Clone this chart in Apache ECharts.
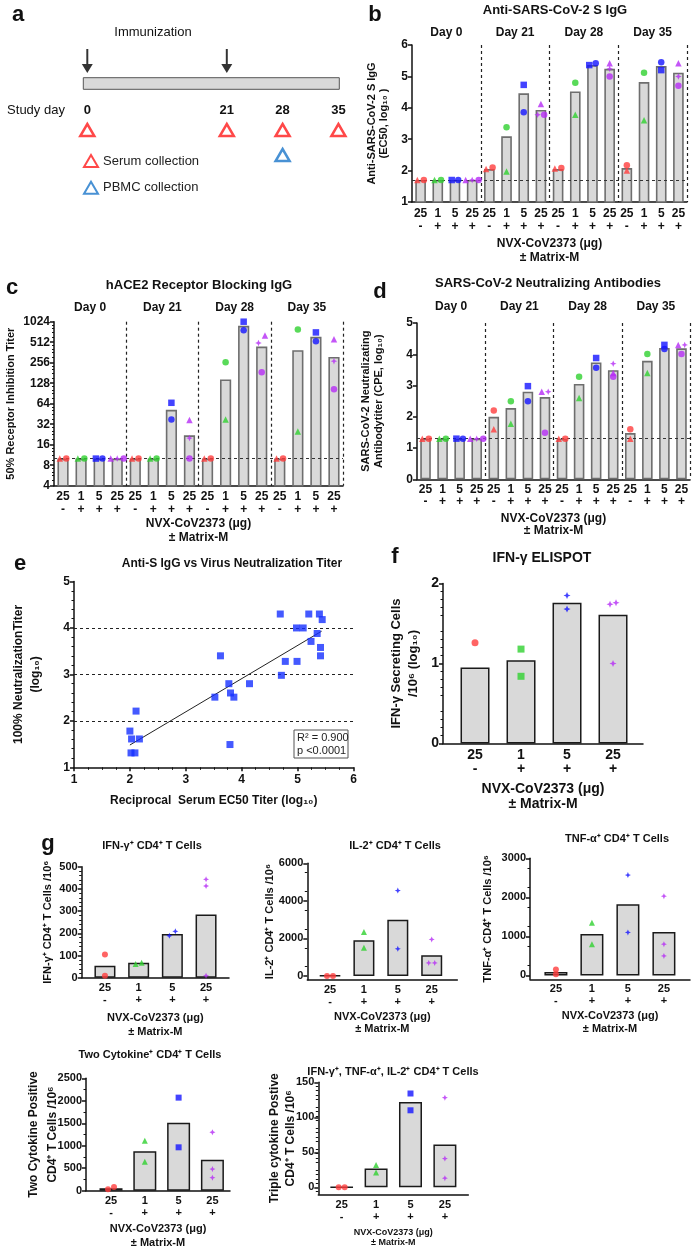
<!DOCTYPE html>
<html><head><meta charset="utf-8">
<script src="https://cdn.jsdelivr.net/npm/echarts@6/dist/echarts.min.js"></script>
<style>html,body{margin:0;padding:0;background:#fff}#c{width:697px;height:1248px}</style>
</head><body><div id="c"></div>
<script>
// ---------------- DATA ----------------
// Panel a (study schedule, schematic spacing)
const timelineTicks = ['0','','','','','21','','28','','35'];
const immunizationDays = ['0','21'];
const serumDays = ['0','21','28','35'];
const pbmcDays = ['28'];

// Shared labels
const dayLabels = ['Day 0','Day 21','Day 28','Day 35'];
const doseLabels = ['25','1','5','25'];
const matrixLabels = ['-','+','+','+'];

// Panel b: Anti-S IgG (EC50, log10)
const bBars = [1.7,1.7,1.7,1.7, 2.05,3.09,4.46,3.93, 2.05,4.52,5.36,5.24, 2.08,4.82,5.33,5.12];
const bPoints = [
  [1.7,1.7],[1.7,1.7],[1.7,1.7],[1.7,1.7,1.7],
  [2.05,2.1],[1.97,3.38],[4.73,3.86],[4.12,3.78,3.78],
  [2.07,2.08],[3.78,4.8],[5.36,5.42],[5.42,5.24,5.0],
  [2.0,2.17],[3.6,5.12],[5.2,5.45],[5.42,5.0,4.7]
];
const bLOD = 1.7;

// Panel c: hACE2 receptor blocking titer
const cBars = [10,10,10,10, 10,10,52,22, 10,145,891,442, 10,390,614,311];
const cPoints = [
  [10,10],[10,10],[10,10],[10,10,10],
  [10,10],[10,10],[66,37.5],[37,20,10],
  [10,10],[37.5,260],[1024,770],[643,500,186],
  [10,10],[25,788],[713,529],[568,270,104]
];
const cLOD = 10;
const cTicks = [4,8,16,32,64,128,256,512,1024];

// Panel d: neutralizing antibody titer (CPE, log10)
const dBars = [1.3,1.3,1.3,1.3, 2.0,2.28,2.8,2.63, 1.3,3.05,3.74,3.49, 1.48,3.79,4.2,4.19];
const dPoints = [
  [1.3,1.3],[1.3,1.3],[1.3,1.3],[1.3,1.3,1.3],
  [1.6,2.2],[1.78,2.5],[2.98,2.5],[2.8,2.8,1.49],
  [1.3,1.3],[2.6,3.28],[3.88,3.57],[3.4,3.7,3.28],
  [1.3,1.6],[3.4,4.01],[4.3,4.17],[4.3,4.3,4.01]
];
const dLOD = 1.3;

// Panel e: anti-S IgG vs neutralization
const eIgG  = [2.0,2.03,2.11,2.17,2.02,2.09, 3.52,3.62,3.77,3.80,3.86,3.79,4.14,4.71,4.78,4.99, 4.69,4.98,5.10,5.20,5.39,5.44,5.35,5.24,5.41,5.41];
const eNeut = [1.78,1.61,2.21,1.61,1.31,1.31, 2.51,3.40,2.80,2.60,2.51,1.49,2.80,2.98,3.28,3.28, 4.30,4.0,4.0,4.30,4.30,4.18,3.88,3.71,3.58,3.40];
const eFit = [[2.0,1.48],[5.43,3.93]];
const eRefLines = [2,3,4];

// Panel f: IFN-g ELISPOT
const fBars = [0.95,1.04,1.76,1.61];
const fPoints = [[1.26],[1.18,0.84],[1.85,1.68],[1.76,1.74,1.0]];

// Panel g
const g1Bars = [54,67,197,285];      const g1Points = [[105,9],[62,67],[189,209],[443,413,9]];
const g2Bars = [20,1900,3000,1100];  const g2Points = [[0,0],[2350,1500],[4550,1450],[1950,700,700]];
const g3Bars = [90,1060,1820,1110];  const g3Points = [[150,30],[1350,800],[2570,1100],[2030,800,500]];
const g4Bars = [55,880,1510,690];    const g4Points = [[30,85],[1110,645],[2070,965],[1300,480,290]];
const g5Bars = [0.5,27,122,61];      const g5Points = [[0,0],[32,21],[134,110],[128,41,13]];

// ---------------- STYLE ----------------
const F = '"Liberation Sans", Arial, sans-serif';
const STAR = 'path://M5,0 L6.5,3.5 L10,5 L6.5,6.5 L5,10 L3.5,6.5 L0,5 L3.5,3.5 Z';
const ARROW = 'path://M4.1,0 L5.9,0 L5.9,15 L10,15 L5,24 L0,15 L4.1,15 Z';
const groupColors = ['#ff3d3d','#2fd12f','#1414ff','#b52cf5'];
const daySymbols = [['triangle','circle'],['triangle','circle'],['rect','circle'],['triangle',STAR,'circle']];
const INK = '#111';
const axLine = {color: INK, width: 1.5};

function merge(a, b) {
  const o = Object.assign({}, a);
  for (const k in b) {
    const bv = b[k], av = a ? a[k] : undefined;
    if (bv && typeof bv === 'object' && !Array.isArray(bv) && av && typeof av === 'object' && !Array.isArray(av)) o[k] = merge(av, bv);
    else o[k] = bv;
  }
  return o;
}
function offsets(vals, thr, gap) {
  const idx = vals.map((v, i) => i).sort((a, b) => vals[a] - vals[b]);
  const off = new Array(vals.length).fill(0);
  let cl = [idx[0]];
  const flush = () => { const n = cl.length; cl.forEach((k, j) => off[k] = (j - (n - 1) / 2) * gap); };
  for (let j = 1; j < idx.length; j++) {
    if (vals[idx[j]] - vals[idx[j - 1]] < thr) cl.push(idx[j]); else { flush(); cl = [idx[j]]; }
  }
  flush();
  return off;
}

const grids = [], xAxes = [], yAxes = [], series = [], graphics = [];

function baseY(extra) {
  return merge({
    type: 'value', nameLocation: 'middle', nameMoveOverlap: false,
    axisLine: {show: true, onZero: false, lineStyle: axLine},
    axisTick: {show: true, length: 4, lineStyle: axLine},
    splitLine: {show: false},
    axisLabel: {fontFamily: F, fontSize: 12, fontWeight: 'bold', color: INK, margin: 4, formatter: v => String(v)},
    nameTextStyle: {fontFamily: F, fontSize: 11, fontWeight: 'bold', color: INK}
  }, extra);
}

// ---------- Day panels (b, c, d) ----------
function dayPanel(p) {
  const gi = grids.length;
  grids.push({left: p.left, top: p.top, width: p.width, height: p.height, outerBoundsMode: 'none'});
  const xi = xAxes.length;
  const n = p.bars.length;
  xAxes.push({
    type: 'category', gridIndex: gi, data: p.bars.map((_, i) => String(i)),
    nameMoveOverlap: false,
    axisLine: {onZero: false, lineStyle: axLine}, axisTick: {show: false},
    axisLabel: {interval: 0, margin: p.lm, formatter: (v, i) => '{d|' + doseLabels[i % 4] + '}\n{d|' + matrixLabels[i % 4] + '}',
      rich: {d: {fontFamily: F, fontSize: 12, fontWeight: 'bold', color: INK, lineHeight: p.llh}}},
    splitLine: {show: true, interval: (i) => i > 0 && i < n && i % 4 === 0, lineStyle: {type: [3, 3], color: '#222', width: 1.2}},
    name: 'NVX-CoV2373 (μg)\n± Matrix-M', nameLocation: 'middle', nameGap: p.ng,
    nameTextStyle: {fontFamily: F, fontSize: 12, fontWeight: 'bold', color: INK, lineHeight: p.nlh}
  });
  xAxes.push({
    type: 'category', gridIndex: gi, position: 'top', data: dayLabels,
    axisLine: {show: false}, axisTick: {show: false},
    axisLabel: {interval: 0, fontFamily: F, fontSize: 12, fontWeight: 'bold', color: INK, margin: p.dm}
  });
  const yi = yAxes.length;
  yAxes.push(merge(baseY(p.y), {gridIndex: gi}));
  series.push({
    type: 'bar', xAxisIndex: xi, yAxisIndex: yi, data: p.bars, barWidth: '62%', clip: true, z: 2,
    itemStyle: {color: '#d9d9d9', borderColor: '#6e6e6e', borderWidth: 1.6},
    markLine: {silent: true, symbol: 'none', label: {show: false}, animation: false,
      lineStyle: {type: [3, 3], color: '#333', width: 1}, data: [{yAxis: p.lod}]}
  });
  const tf = p.tf || (v => v);
  const pts = [];
  p.points.forEach((vals, i) => {
    const g = i % 4;
    const offs = offsets(vals.map(tf), p.thr, 6.5);
    vals.forEach((v, k) => pts.push({value: [i, v], symbol: daySymbols[g][k], symbolOffset: [offs[k], 0], itemStyle: {color: groupColors[g]}}));
  });
  series.push({type: 'scatter', xAxisIndex: xi, yAxisIndex: yi, data: pts, symbolSize: 6.5, z: 5});
}

// ---------- Small bar panels (f, g) ----------
function smallPanel(p) {
  const gi = grids.length;
  grids.push({left: p.left, top: p.top, width: p.width, height: p.height, outerBoundsMode: 'none'});
  const W = p.width / p.spacing;
  const xs = p.bars.map((_, i) => p.first + i);
  const xi = xAxes.length;
  xAxes.push({
    type: 'value', gridIndex: gi, min: 0, max: W, nameMoveOverlap: false,
    axisLine: {onZero: false, lineStyle: axLine}, axisTick: {show: false}, splitLine: {show: false},
    axisLabel: {customValues: xs, showMinLabel: true, showMaxLabel: true,
      formatter: (v) => { const i = xs.findIndex(x => Math.abs(x - v) < 1e-6); return i < 0 ? '' : doseLabels[i] + '\n' + matrixLabels[i]; },
      fontFamily: F, fontSize: p.lf, fontWeight: 'bold', color: INK, lineHeight: p.llh, margin: p.lm},
    name: 'NVX-CoV2373 (μg)\n± Matrix-M', nameLocation: 'middle', nameGap: p.ng,
    nameTextStyle: {fontFamily: F, fontSize: p.nf, fontWeight: 'bold', color: INK, lineHeight: p.nlh}
  });
  const yi = yAxes.length;
  yAxes.push(merge(baseY({
    min: p.yMin, max: p.yMax,
    axisLabel: {customValues: p.yTicks, fontSize: p.yf},
    axisTick: {customValues: p.yTicks},
    minorTick: {show: true, splitNumber: p.minor, length: 2.5, lineStyle: {color: INK, width: 1}},
    name: p.yName, nameGap: p.yGap, nameTextStyle: {fontSize: p.ynf, lineHeight: p.ynlh}
  }), merge(p.yExtra || {}, {gridIndex: gi})));
  series.push({
    type: 'bar', xAxisIndex: xi, yAxisIndex: yi, data: p.bars.map((v, i) => [xs[i], v]), barWidth: p.barW, z: 2,
    itemStyle: {color: '#d9d9d9', borderColor: '#1a1a1a', borderWidth: 1.5}
  });
  const pts = [];
  p.points.forEach((vals, i) => {
    const offs = offsets(vals, p.thr, 6);
    vals.forEach((v, k) => pts.push({value: [xs[i], v], symbol: p.symbols[i], symbolOffset: [offs[k], 0], itemStyle: {color: groupColors[i]}}));
  });
  series.push({type: 'scatter', xAxisIndex: xi, yAxisIndex: yi, data: pts, symbolSize: p.ss || 6, z: 5});
}

// ---------- Panel a ----------
(function () {
  const gi = grids.length;
  // axis line sits at the grid top (y = 118.5); rows below are y-values
  grids.push({left: 87.3, top: 118.5, width: 251.1, height: 36.5, outerBoundsMode: 'none'});
  const xi = xAxes.length, yi = yAxes.length;
  xAxes.push({type: 'category', gridIndex: gi, boundaryGap: false, position: 'top', data: timelineTicks,
    axisLine: {show: false, onZero: false}, axisTick: {show: false}, splitLine: {show: false},
    axisLabel: {interval: 0, fontFamily: F, fontSize: 13, fontWeight: 'bold', color: INK, margin: 2}});
  yAxes.push({type: 'value', gridIndex: gi, min: -0.46, max: 1, inverse: true, show: false});
  const ARROW_ROW = -2.76, SERUM_ROW = 0, PBMC_ROW = 1;
  series.push({type: 'scatter', xAxisIndex: xi, yAxisIndex: yi, symbol: ARROW, symbolSize: [11, 24], clip: false,
    itemStyle: {color: '#000'}, data: immunizationDays.map(d => [timelineTicks.indexOf(d), ARROW_ROW])});
  series.push({name: 'Serum collection', type: 'scatter', xAxisIndex: xi, yAxisIndex: yi, symbol: 'triangle', symbolSize: [14, 12], clip: false,
    itemStyle: {color: '#fff', borderColor: '#ff1a1a', borderWidth: 2.5}, data: serumDays.map(d => [timelineTicks.indexOf(d), SERUM_ROW])});
  series.push({name: 'PBMC collection', type: 'scatter', xAxisIndex: xi, yAxisIndex: yi, symbol: 'triangle', symbolSize: [14, 12], clip: false,
    itemStyle: {color: '#fff', borderColor: '#1a75c9', borderWidth: 2.5}, data: pbmcDays.map(d => [timelineTicks.indexOf(d), PBMC_ROW])});
  graphics.push({type: 'rect', shape: {x: 83.3, y: 77.7, width: 256, height: 11.6}, style: {fill: '#d9d9d9', stroke: '#555', lineWidth: 1}});
})();

// ---------- Panel b ----------
dayPanel({left: 412, top: 45, width: 275, height: 157, bars: bBars, points: bPoints, lod: bLOD, thr: 0.12,
  lm: 5, llh: 13, ng: 35, nlh: 14, dm: 6,
  y: {min: 1, max: 6, interval: 1, name: 'Anti-SARS-CoV-2 S IgG\n(EC50, log₁₀ )', nameGap: 22, nameTextStyle: {lineHeight: 12}}});

// ---------- Panel c ----------
dayPanel({left: 54, top: 321.7, width: 289, height: 164, bars: cBars, points: cPoints, lod: cLOD, thr: 0.4, tf: v => Math.log2(v),
  lm: 4, llh: 13, ng: 31, nlh: 14, dm: 8,
  y: {type: 'log', logBase: 2, min: 4, max: 1024, splitNumber: 8,
    axisLabel: {customValues: cTicks, formatter: v => String(Math.round(v))}, axisTick: {customValues: cTicks},
    minorTick: {show: true, splitNumber: 5, length: 2, lineStyle: {color: INK, width: 1}},
    name: '50% Receptor Inhibition Titer', nameGap: 38}});

// ---------- Panel d ----------
dayPanel({left: 417, top: 323, width: 273, height: 156.3, bars: dBars, points: dPoints, lod: dLOD, thr: 0.12,
  lm: 4, llh: 12.5, ng: 33, nlh: 12, dm: 10,
  y: {min: 0, max: 5, interval: 1, name: 'SARS-CoV-2 Neutralizating\nAntibodytiter (CPE, log₁₀)', nameGap: 32, nameTextStyle: {lineHeight: 13}}});

// ---------- Panel e ----------
(function () {
  const gi = grids.length;
  grids.push({left: 74, top: 581.5, width: 279.5, height: 185.8, outerBoundsMode: 'none'});
  const xi = xAxes.length, yi = yAxes.length;
  xAxes.push(baseY({min: 1, max: 6, interval: 1, gridIndex: gi,
    minorTick: {show: true, splitNumber: 4, length: 2.5, lineStyle: {color: INK, width: 1}},
    axisLabel: {margin: 6},
    name: 'Reciprocal  Serum EC50 Titer (log₁₀)', nameGap: 27, nameTextStyle: {fontSize: 12}}));
  yAxes.push(baseY({min: 1, max: 5, interval: 1, gridIndex: gi,
    minorTick: {show: true, splitNumber: 5, length: 2.5, lineStyle: {color: INK, width: 1}},
    name: '100% NeutralizationTiter\n(log₁₀)', nameGap: 30, nameTextStyle: {fontSize: 12, lineHeight: 17}}));
  series.push({type: 'scatter', xAxisIndex: xi, yAxisIndex: yi, symbol: 'rect', symbolSize: 7, z: 5,
    itemStyle: {color: '#1530ff'}, data: eIgG.map((x, i) => [x, eNeut[i]]),
    markLine: {silent: true, symbol: 'none', label: {show: false}, animation: false,
      lineStyle: {type: [3, 3], color: '#222', width: 1}, data: eRefLines.map(v => ({yAxis: v}))}});
  series.push({type: 'line', xAxisIndex: xi, yAxisIndex: yi, data: eFit, symbol: 'none', z: 4,
    lineStyle: {color: '#222', width: 1}});
  graphics.push({type: 'rect', shape: {x: 294, y: 730, width: 54, height: 28}, style: {fill: '#fff', stroke: '#555', lineWidth: 1}, z: 10});
  graphics.push({type: 'text', x: 297, y: 744, z: 11, style: {text: 'R² = 0.900\np <0.0001', fontFamily: F, fontSize: 11, fill: '#222', lineHeight: 13, align: 'left', verticalAlign: 'middle'}});
})();

// ---------- Panel f ----------
smallPanel({left: 443, top: 583.5, width: 200, height: 160, spacing: 46, first: 0.696, barW: 29,
  bars: fBars, points: fPoints, symbols: ['circle', 'rect', STAR, STAR], thr: 0.06, ss: 7,
  yMin: 0, yMax: 2, yTicks: [0, 1, 2], minor: 5, yf: 14,
  yName: 'IFN-γ Secreting Cells\n/10⁶ (log₁₀)', yGap: 21, ynf: 13, ynlh: 17,
  lf: 14, llh: 14, lm: 5, ng: 38, nf: 14, nlh: 15});

// ---------- Panel g ----------
const gSyms1 = ['circle', 'triangle', STAR, STAR];
const gSyms2 = ['circle', 'triangle', 'rect', STAR];
smallPanel({left: 81.7, top: 866.7, width: 147.3, height: 111, spacing: 33.7, first: 0.69, barW: 21,
  bars: g1Bars, points: g1Points, symbols: gSyms1, thr: 25,
  yMin: 0, yMax: 500, yTicks: [0, 100, 200, 300, 400, 500], minor: 5, yf: 11,
  yName: 'IFN-γ⁺ CD4⁺ T Cells /10⁶', yGap: 27, ynf: 11, ynlh: 13,
  lf: 11, llh: 12, lm: 4, ng: 33, nf: 11, nlh: 14});
smallPanel({left: 307.3, top: 863.3, width: 150, height: 116.5, spacing: 33.9, first: 0.67, barW: 21,
  bars: g2Bars, points: g2Points, symbols: gSyms1, thr: 150,
  yMin: -200, yMax: 6000, yTicks: [0, 2000, 4000, 6000], minor: 2, yf: 11,
  yName: 'IL-2⁺ CD4⁺ T Cells /10⁶', yGap: 31, ynf: 11, ynlh: 13,
  lf: 11, llh: 12, lm: 4, ng: 31, nf: 11, nlh: 12});
smallPanel({left: 530, top: 858.3, width: 160, height: 121, spacing: 36, first: 0.72, barW: 23,
  bars: g3Bars, points: g3Points, symbols: gSyms1, thr: 100,
  yMin: -100, yMax: 3000, yTicks: [0, 1000, 2000, 3000], minor: 2, yf: 11,
  yName: 'TNF-α⁺ CD4⁺ T Cells /10⁶', yGap: 36, ynf: 11, ynlh: 13,
  lf: 11, llh: 12, lm: 4, ng: 30, nf: 11, nlh: 13});
smallPanel({left: 86, top: 1078.3, width: 144, height: 112.4, spacing: 33.8, first: 0.74, barW: 23,
  bars: g4Bars, points: g4Points, symbols: gSyms2, thr: 80,
  yMin: 0, yMax: 2500, yTicks: [0, 500, 1000, 1500, 2000, 2500], minor: 2, yf: 11,
  yName: 'Two Cytokine Positive\nCD4⁺ T Cells /10⁶', yGap: 24, ynf: 12, ynlh: 19,
  lf: 11, llh: 12, lm: 4.5, ng: 31, nf: 11, nlh: 14});
smallPanel({left: 318.3, top: 1082.3, width: 150, height: 112, spacing: 34.4, first: 0.68, barW: 23,
  bars: g5Bars, points: g5Points, symbols: gSyms2, thr: 5,
  yMin: -10, yMax: 150, yTicks: [0, 50, 100, 150], minor: 5, yf: 11,
  yName: 'Triple cytokine Postive\nCD4⁺ T Cells /10⁶', yGap: 20, ynf: 12, ynlh: 16,
  lf: 11, llh: 12, lm: 5, ng: 33, nf: 9, nlh: 10});

// ---------- Texts ----------
const labelTexts = [
  ['a', 18, 15, 22, 'bold'], ['b', 375, 15, 22, 'bold'], ['c', 12, 288, 22, 'bold'], ['d', 380, 292, 22, 'bold'],
  ['e', 20, 564, 22, 'bold'], ['f', 395, 557, 22, 'bold'], ['g', 48, 844, 22, 'bold'],
  ['Immunization', 153, 32, 13, 'normal'], ['Study day', 36, 110, 13, 'normal'],
  ['Anti-SARS-CoV-2 S IgG', 555, 10, 13, 'bold'],
  ['hACE2 Receptor Blocking IgG', 199, 285, 13, 'bold'],
  ['SARS-CoV-2 Neutralizing Antibodies', 548, 283, 13, 'bold'],
  ['Anti-S IgG vs Virus Neutralization Titer', 232, 564, 12, 'bold'],
  ['IFN-γ ELISPOT', 542, 558, 14, 'bold'],
  ['IFN-γ⁺ CD4⁺ T Cells', 152, 846, 11, 'bold'],
  ['IL-2⁺ CD4⁺ T Cells', 395, 846, 11, 'bold'],
  ['TNF-α⁺ CD4⁺ T Cells', 617, 839, 11, 'bold'],
  ['Two Cytokine⁺ CD4⁺ T Cells', 150, 1055, 11, 'bold'],
  ['IFN-γ⁺, TNF-α⁺, IL-2⁺ CD4⁺ T Cells', 393, 1072, 11, 'bold']
];
labelTexts.forEach(t => graphics.push({type: 'text', x: t[1], y: t[2], z: 10,
  style: {text: t[0], fontFamily: F, fontSize: t[3], fontWeight: t[4], fill: INK, align: 'center', verticalAlign: 'middle'}}));

const chart = echarts.init(document.getElementById('c'), null, {renderer: 'canvas'});
chart.setOption({
  animation: false,
  backgroundColor: '#fff',
  textStyle: {fontFamily: F},
  legend: {orient: 'vertical', left: 78, top: 149, itemWidth: 14, itemHeight: 12, itemGap: 12.7, selectedMode: false,
    data: ['Serum collection', 'PBMC collection'], textStyle: {fontFamily: F, fontSize: 13, color: '#222'}},
  grid: grids, xAxis: xAxes, yAxis: yAxes, series: series, graphic: graphics
});
</script></body></html>
